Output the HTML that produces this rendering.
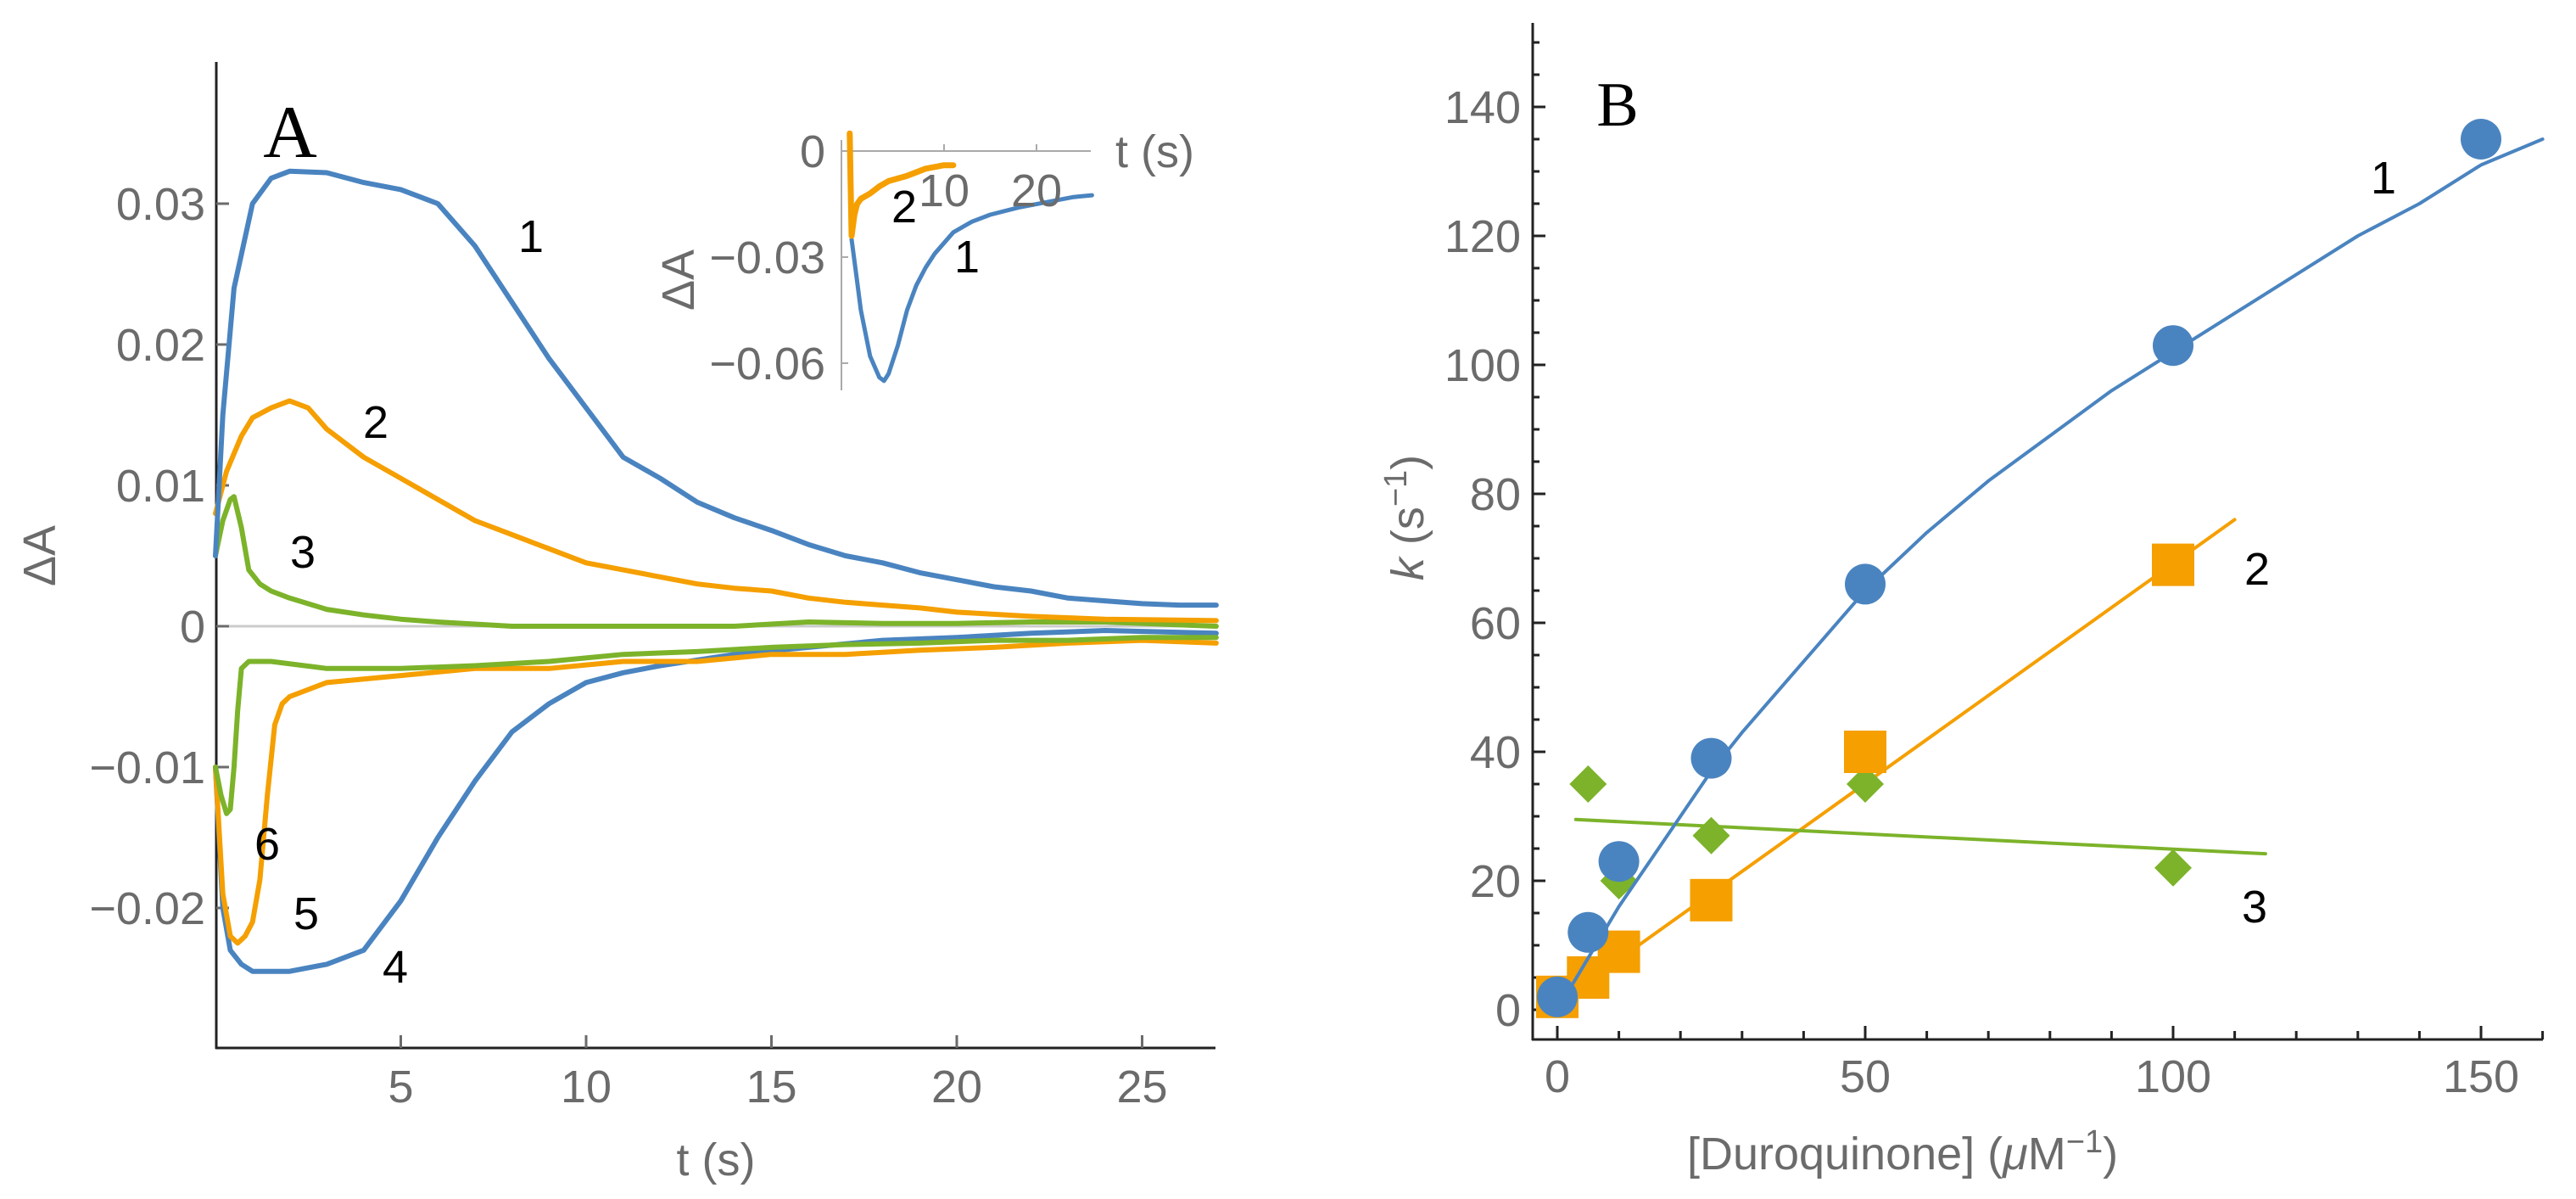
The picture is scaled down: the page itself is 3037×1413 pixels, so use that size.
<!DOCTYPE html>
<html><head><meta charset="utf-8">
<style>
html,body{margin:0;padding:0;background:#fff;}
svg{display:block;font-family:"Liberation Sans",sans-serif;}
.tk{fill:#6b6b6b;font-size:54px;}
.lb{fill:#000;font-size:54px;}
</style></head>
<body>
<svg id="fig" width="3037" height="1413" viewBox="0 0 3037 1413" xmlns="http://www.w3.org/2000/svg">
  <g id="panelA"></g>
  <g id="inset"></g>
  <g id="panelB"></g>
</svg>
<script>
// ---------- Panel A data ----------
const tA1 = [0,0.2,0.5,1,1.5,2,3,4,5,6,7,8,9,10,11,12,13,14,15,16,17,18,19,20,21,22,23,24,25,26,27];
const vA1 = [0.005,0.015,0.024,0.030,0.0318,0.0323,0.0322,0.0315,0.031,0.030,0.027,0.023,0.019,0.0155,0.012,0.0105,0.0088,0.0077,0.0068,0.0058,0.005,0.0045,0.0038,0.0033,0.0028,0.0025,0.002,0.0018,0.0016,0.0015,0.0015];
const tA2 = [0,0.3,0.7,1,1.5,2,2.5,3,4,5,6,7,8,9,10,11,12,13,14,15,16,17,18,19,20,22,24,27];
const vA2 = [0.008,0.011,0.0135,0.0148,0.0155,0.016,0.0155,0.014,0.012,0.0105,0.009,0.0075,0.0065,0.0055,0.0045,0.004,0.0035,0.003,0.0027,0.0025,0.002,0.0017,0.0015,0.0013,0.001,0.0007,0.0005,0.0004];
const tA3 = [0,0.2,0.4,0.5,0.7,0.9,1.2,1.5,2,3,4,5,6,8,10,12,14,16,18,20,22,24,27];
const vA3 = [0.005,0.0075,0.009,0.0092,0.007,0.004,0.003,0.0025,0.002,0.0012,0.0008,0.0005,0.0003,0,0,0,0,0.0003,0.0002,0.0002,0.0003,0.0003,0];
const tA4 = [0,0.2,0.4,0.7,1,2,3,4,5,6,7,8,9,10,11,12,14,16,18,20,22,24,27];
const vA4 = [-0.01,-0.02,-0.023,-0.024,-0.0245,-0.0245,-0.024,-0.023,-0.0195,-0.015,-0.011,-0.0075,-0.0055,-0.004,-0.0033,-0.0028,-0.002,-0.0015,-0.001,-0.0008,-0.0005,-0.0003,-0.0005];
const tA5 = [0,0.2,0.4,0.6,0.8,1,1.2,1.4,1.6,1.8,2,3,5,7,9,11,13,15,17,19,21,23,25,27];
const vA5 = [-0.01,-0.019,-0.022,-0.0225,-0.022,-0.021,-0.018,-0.012,-0.007,-0.0055,-0.005,-0.004,-0.0035,-0.003,-0.003,-0.0025,-0.0025,-0.002,-0.002,-0.0017,-0.0015,-0.0012,-0.001,-0.0012];
const tA6 = [0,0.15,0.3,0.4,0.5,0.6,0.7,0.9,1.5,3,5,7,9,11,13,15,17,19,21,23,25,27];
const vA6 = [-0.01,-0.012,-0.0133,-0.013,-0.01,-0.006,-0.003,-0.0025,-0.0025,-0.003,-0.003,-0.0028,-0.0025,-0.002,-0.0018,-0.0015,-0.0013,-0.0012,-0.001,-0.001,-0.0008,-0.0008];
const xTicksA = [5,10,15,20,25];
const yTicksA = [0.03,0.02,0.01,0,-0.01,-0.02];
const yTickLabelsA = ["0.03","0.02","0.01","0","\u22120.01","\u22120.02"];
// inset
const tI1 = [0,0.5,1,2,3,3.5,4,5,6,7,8,9,10,11,13,15,18,21,24,26];
const vI1 = [-0.025,-0.035,-0.045,-0.058,-0.064,-0.065,-0.063,-0.055,-0.045,-0.038,-0.033,-0.029,-0.026,-0.023,-0.02,-0.018,-0.016,-0.0145,-0.013,-0.0125];
const tI2 = [-0.2,-0.1,0,0.3,0.6,1,2,3,4,6,8,10,11];
const vI2 = [0.005,-0.01,-0.024,-0.018,-0.015,-0.0135,-0.012,-0.01,-0.0085,-0.007,-0.005,-0.004,-0.004];
const xTicksI = [10,20];
const yTicksI = [0,-0.03,-0.06];
const yTickLabelsI = ["0","\u22120.03","\u22120.06"];
// ---------- Panel B data ----------
const conc1 = [0,5,10,25,50,100,150];
const k1 = [2,12,23,39,66,103,135];
const conc2 = [0,5,10,25,50,100];
const k2 = [2,5,9,17,40,69];
const conc3 = [5,10,25,50,100];
const k3 = [35,20,27,35,22];
const fit1X = [0,5,10,15,20,25,30,40,50,60,70,80,90,100,110,120,130,140,150,160];
const fit1Y = [0,8,16,23,30,37,43,54,65,74,82,89,96,102,108,114,120,125,131,135];
const fit2X = [0,110];
const fit2Y = [1,76];
const fit3X = [3,115];
const fit3Y = [29.5,24.2];
const xTicksB = [0,50,100,150];
const yTicksB = [0,20,40,60,80,100,120,140];

const NS="http://www.w3.org/2000/svg";
const BLUE="#4a84c0", ORANGE="#f59f00", GREEN="#7cb32a", GRAY="#6b6b6b";
function mk(tag, attrs, parent){const e=document.createElementNS(NS,tag);for(const k in attrs)e.setAttribute(k,attrs[k]);parent.appendChild(e);return e;}

const xA = t => 254 + t*43.7;
const yA = v => 738 - v*16600;
const xI = t => 1004 + t*10.9;
const yI = v => 178 - v*4167;
const xB = c => 1836 + c*7.26;
const yB = k => 1190 - k*7.6;

// ---------- Panel A ----------
const A=document.getElementById('panelA');
let e;
e=mk('line',{x1:255,y1:738,x2:1433,y2:738,stroke:'#cccccc','stroke-width':3},A);


e=mk('line',{x1:255,y1:73,x2:255,y2:1236,stroke:'#222','stroke-width':3},A);


e=mk('line',{x1:254,y1:1235,x2:1433,y2:1235,stroke:'#222','stroke-width':3},A);


xTicksA.forEach(t=>{
  e=mk('line',{x1:xA(t),y1:1235,x2:xA(t),y2:1220,stroke:GRAY,'stroke-width':3},A);
  
  
  e=mk('text',{x:xA(t),y:1299,'text-anchor':'middle',class:'tk'},A);e.textContent=t;
  
  
});
yTicksA.forEach((v,i)=>{
  e=mk('line',{x1:255,y1:yA(v),x2:270,y2:yA(v),stroke:GRAY,'stroke-width':3},A);
  
  
  e=mk('text',{x:242,y:yA(v)+19,'text-anchor':'end',class:'tk'},A);e.textContent=yTickLabelsA[i];
  
  
});
function curve(parent, ts, vs, fx, fy, col, w, name){
  const d=ts.map((t,i)=>(i?'L':'M')+fx(t).toFixed(1)+' '+fy(vs[i]).toFixed(1)).join(' ');
  const p=mk('path',{d:d,fill:'none',stroke:col,'stroke-width':w,'stroke-linejoin':'round','stroke-linecap':'round'},parent);
  
  
}
curve(A,tA4,vA4,xA,yA,BLUE,6,'trace-4');
curve(A,tA5,vA5,xA,yA,ORANGE,6,'trace-5');
curve(A,tA6,vA6,xA,yA,GREEN,6,'trace-6');
curve(A,tA3,vA3,xA,yA,GREEN,6,'trace-3');
curve(A,tA2,vA2,xA,yA,ORANGE,6,'trace-2');
curve(A,tA1,vA1,xA,yA,BLUE,6,'trace-1');
const labsA=[["1",626,297],["2",443,516],["3",357,669],["6",315,1013],["5",361,1095],["4",466,1158]];
labsA.forEach(l=>{e=mk('text',{x:l[1],y:l[2],'text-anchor':'middle',class:'lb'},A);e.textContent=l[0];
  
  });
e=mk('text',{x:342,y:185,'text-anchor':'middle','font-family':'Liberation Serif, serif','font-size':88,fill:'#000'},A);e.textContent='A';


e=mk('text',{x:0,y:0,'text-anchor':'middle',class:'tk',transform:'translate(65,655) rotate(-90)'},A);e.textContent='\u0394A';


e=mk('text',{x:844,y:1385,'text-anchor':'middle',class:'tk'},A);e.textContent='t (s)';



// ---------- Inset ----------
const I=document.getElementById('inset');
e=mk('line',{x1:992,y1:178,x2:1286,y2:178,stroke:'#aaa','stroke-width':2},I);


e=mk('line',{x1:992,y1:165,x2:992,y2:460,stroke:'#aaa','stroke-width':2},I);


xTicksI.forEach(t=>{
  e=mk('line',{x1:xI(t),y1:178,x2:xI(t),y2:170,stroke:'#aaa','stroke-width':2},I);
  
  
});
yTicksI.forEach((v,i)=>{
  e=mk('line',{x1:992,y1:yI(v),x2:1000,y2:yI(v),stroke:'#aaa','stroke-width':2},I);
  
  
  e=mk('text',{x:973,y:yI(v)+19,'text-anchor':'end',class:'tk'},I);e.textContent=yTickLabelsI[i];
  
  
});
curve(I,tI1,vI1,xI,yI,BLUE,5,'inset-trace-1');
curve(I,tI2,vI2,xI,yI,ORANGE,7,'inset-trace-2');
xTicksI.forEach(t=>{
  e=mk('text',{x:xI(t),y:243,'text-anchor':'middle',class:'tk'},I);e.textContent=t;
  
  
});
e=mk('text',{x:1315,y:197,class:'tk'},I);e.textContent='t (s)';


e=mk('text',{x:0,y:0,'text-anchor':'middle',class:'tk',transform:'translate(818,330) rotate(-90)'},I);e.textContent='\u0394A';


[["2",1066,262],["1",1140,321]].forEach(l=>{e=mk('text',{x:l[1],y:l[2],'text-anchor':'middle',class:'lb'},I);e.textContent=l[0];
  
  });

// ---------- Panel B ----------
const B=document.getElementById('panelB');
e=mk('line',{x1:1807,y1:27,x2:1807,y2:1226,stroke:'#222','stroke-width':3},B);


e=mk('line',{x1:1806,y1:1225,x2:2998,y2:1225,stroke:'#222','stroke-width':3},B);


for(let c=0;c<=160;c+=10){
  const major=(c%50===0);
  e=mk('line',{x1:xB(c),y1:1225,x2:xB(c),y2:major?1209:1215,stroke:'#222','stroke-width':3},B);
  
  
}
xTicksB.forEach(c=>{
  e=mk('text',{x:xB(c),y:1287,'text-anchor':'middle',class:'tk'},B);e.textContent=c;
  
  
});
for(let k=0;k<=150;k+=5){
  const major=(k%20===0);
  e=mk('line',{x1:1807,y1:yB(k),x2:major?1822:1815,y2:yB(k),stroke:'#222','stroke-width':3},B);
  
  
}
yTicksB.forEach(k=>{
  e=mk('text',{x:1793,y:yB(k)+19,'text-anchor':'end',class:'tk'},B);e.textContent=k;
  
  
});
curve(B,fit2X,fit2Y,xB,yB,ORANGE,4,'fit-line-2');
curve(B,fit3X,fit3Y,xB,yB,GREEN,4,'fit-line-3');
conc3.forEach((c,i)=>{const x=xB(c),y=yB(k3[i]);
  e=mk('path',{d:`M${x} ${y-22} L${x+22} ${y} L${x} ${y+22} L${x-22} ${y} Z`,fill:GREEN},B);
  
  });
conc2.forEach((c,i)=>{const x=xB(c),y=yB(k2[i]);
  e=mk('rect',{x:x-25,y:y-25,width:50,height:50,fill:ORANGE},B);
  
  });
conc1.forEach((c,i)=>{
  e=mk('circle',{cx:xB(c),cy:yB(k1[i]),r:24,fill:BLUE},B);
  
  });
curve(B,fit1X,fit1Y,xB,yB,BLUE,4,'fit-curve-1');
[["1",2810,228],["2",2661,689],["3",2658,1087]].forEach(l=>{e=mk('text',{x:l[1],y:l[2],'text-anchor':'middle',class:'lb'},B);e.textContent=l[0];
  
  });
e=mk('text',{x:1907,y:148,'text-anchor':'middle','font-family':'Liberation Serif, serif','font-size':74,fill:'#000'},B);e.textContent='B';


e=mk('text',{x:0,y:0,'text-anchor':'middle',class:'tk',transform:'translate(1678,610) rotate(-90)'},B);
e.innerHTML='<tspan font-style="italic">k</tspan> (s<tspan dy="-20" font-size="38">\u22121</tspan><tspan dy="20">)</tspan>';


e=mk('text',{x:2243,y:1378,'text-anchor':'middle',class:'tk'},B);
e.innerHTML='[Duroquinone] (<tspan font-style="italic">\u03bc</tspan>M<tspan dy="-20" font-size="38">\u22121</tspan><tspan dy="20">)</tspan>';


</script>
</body></html>
